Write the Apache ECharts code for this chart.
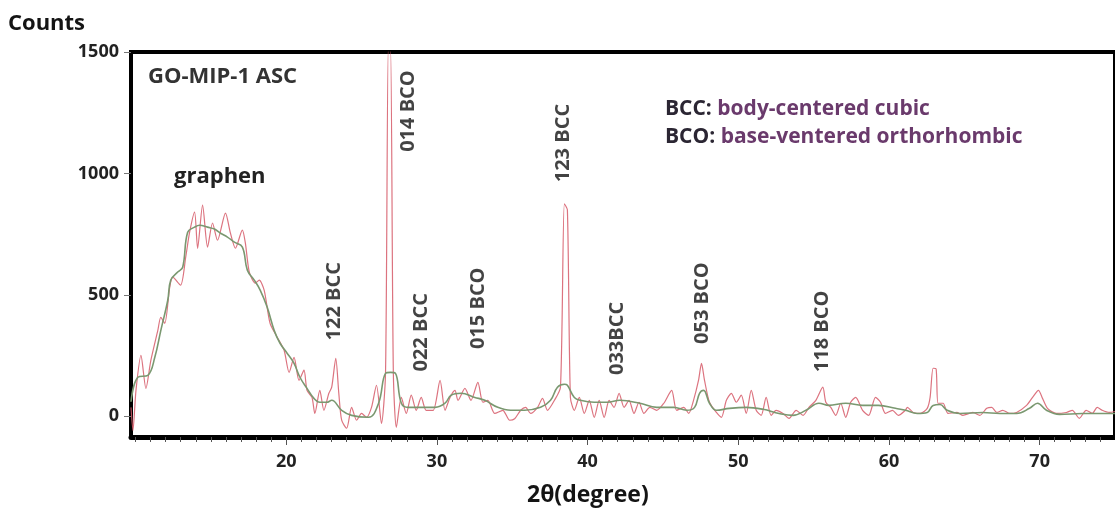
<!DOCTYPE html>
<html>
<head>
<meta charset="utf-8">
<script src="https://cdn.jsdelivr.net/npm/echarts@6/dist/echarts.min.js"></script>
<style>
html,body{margin:0;padding:0;background:#fff;}
#chart{width:1115px;height:517px;}
</style>
</head>
<body>
<div id="chart"></div>
<script>
// ---- Data ----
const rawX = [9.70,9.83,10.03,10.36,10.69,11.02,11.48,11.68,11.94,12.27,12.47,12.99,13.33,13.59,13.92,14.12,14.45,14.78,15.11,15.44,15.97,16.30,16.63,17.09,17.29,17.55,17.95,18.21,18.54,18.93,19.40,19.86,20.19,20.52,20.85,21.18,21.38,21.71,21.90,22.23,22.50,22.83,23.02,23.29,23.49,23.68,24.01,24.34,24.67,25.00,25.33,25.66,25.99,26.32,26.59,26.78,26.92,27.11,27.31,27.64,27.97,28.30,28.63,28.96,29.29,29.75,30.21,30.54,30.87,31.20,31.40,31.86,32.26,32.72,33.05,33.38,33.84,34.37,34.83,35.16,35.56,35.89,36.22,36.68,37.01,37.34,37.80,38.20,38.46,38.66,38.86,39.12,39.45,39.78,40.11,40.44,40.77,41.10,41.43,41.76,42.09,42.42,42.75,43.08,43.41,43.74,44.13,44.59,45.06,45.58,45.91,46.38,46.71,47.03,47.36,47.56,47.76,48.09,48.55,48.88,49.21,49.54,49.87,50.20,50.53,50.86,51.19,51.52,51.85,52.18,52.51,52.97,53.37,53.84,54.30,54.69,55.15,55.61,55.81,56.14,56.47,56.80,57.13,57.46,57.79,58.25,58.65,59.11,59.44,59.77,60.23,60.62,61.09,61.22,61.61,62.08,62.54,62.73,62.93,63.13,63.26,63.59,63.92,64.52,64.91,65.57,66.03,66.49,66.82,67.15,67.55,68.01,68.47,69.13,69.53,69.92,70.19,70.52,71.11,71.77,72.17,72.63,73.09,73.49,73.82,74.15,74.61,75.00];
const rawY = [37,-58,107,251,115,231,354,408,383,532,573,540,655,758,841,692,870,697,796,725,837,754,692,767,713,594,548,561,519,383,326,272,181,243,148,190,107,78,12,107,25,95,120,239,95,-16,-49,37,-16,12,-4,37,128,-29,177,1520,1520,177,-45,78,12,87,25,78,25,25,148,25,78,107,66,115,66,140,58,66,12,25,-16,-10,25,37,12,37,74,25,66,120,875,850,78,25,78,12,66,-4,66,-4,66,37,95,37,66,12,58,12,37,25,54,107,25,37,12,66,148,218,148,58,16,-4,66,95,58,87,12,107,25,4,78,4,25,12,-8,25,4,37,66,120,58,37,4,54,-4,58,78,25,4,78,58,12,25,4,25,37,16,12,33,78,198,195,54,54,12,16,4,16,4,33,37,16,25,12,16,45,78,107,74,33,12,16,25,-8,25,12,37,25,16,20];

const smoothX = [9.70,10.16,10.82,11.28,11.68,12.14,12.34,12.80,13.13,13.46,13.92,14.25,14.78,15.24,15.64,16.10,16.56,17.09,17.42,17.88,18.28,18.74,19.20,19.59,20.06,20.52,20.91,21.38,21.84,22.23,22.69,23.02,23.68,24.34,25.47,26.13,26.59,26.92,27.25,27.64,28.10,28.76,29.88,30.54,30.94,31.60,32.52,33.18,34.04,34.90,35.82,36.88,37.54,38.00,38.46,38.66,39.12,39.52,40.44,41.30,42.15,43.47,44.59,45.72,46.57,47.10,47.43,47.70,48.09,48.55,49.41,50.53,51.65,52.71,53.63,54.49,55.35,56.01,57.13,58.25,59.30,60.43,61.09,61.88,62.54,62.93,63.39,63.86,64.71,66.23,67.35,68.47,69.33,69.86,70.45,71.31,72.83,75.00];
const smoothY = [60,161,169,243,354,478,561,594,614,758,779,787,779,771,754,738,717,697,602,561,519,449,354,301,260,218,161,115,74,58,58,66,25,4,-4,54,177,181,177,54,37,37,37,54,87,95,78,66,37,25,25,37,66,120,132,128,78,66,58,58,66,54,37,37,25,37,95,107,54,25,33,37,29,12,4,25,54,45,54,45,45,33,25,12,16,45,49,25,12,16,12,12,33,54,25,8,12,12];

const peakNames = ['122 BCC','014 BCO','022 BCC','015 BCO','123 BCC','033BCC','053 BCO','118 BCO'];
const peakX = [23.17, 28.12, 28.97, 32.74, 38.41, 41.98, 47.59, 55.57];
const peakY = [474, 1257, 346, 445, 1125, 321, 466, 350];

const xTickLabels = [20, 30, 40, 50, 60, 70];
const yTickLabels = [0, 500, 1000, 1500];

// ---- Build ----
const rawData = rawX.map((x, i) => [x, rawY[i]]);
const smoothData = smoothX.map((x, i) => [x, smoothY[i]]);
const peakData = peakX.map((x, i) => ({ value: [x, peakY[i]], name: peakNames[i] }));
const minorTicks = [];
for (let v = 10; v <= 74; v++) minorTicks.push(v);

const FONT = '"Open Sans", "Liberation Sans", sans-serif';
const chart = echarts.init(document.getElementById('chart'), null, { renderer: 'canvas' });

const X_MIN = 9.7, X_MAX = 75;

chart.setOption({
  animation: false,
  backgroundColor: '#ffffff',
  grid: {
    left: 131, right: -5, top: 52, bottom: 80,
    show: true, borderColor: '#000', borderWidth: 4, backgroundColor: 'transparent'
  },
  xAxis: [
    {
      type: 'value', min: X_MIN, max: X_MAX, position: 'bottom',
      axisLine: { show: true, onZero: false, lineStyle: { color: '#000', width: 5 } },
      axisTick: { show: true, customValues: minorTicks, length: 5, lineStyle: { color: '#555', width: 1 } },
      axisLabel: { show: false },
      splitLine: { show: false }
    },
    {
      type: 'value', min: X_MIN, max: X_MAX, position: 'bottom',
      axisLine: { show: false, onZero: false },
      axisTick: { show: true, customValues: xTickLabels, length: 8, lineStyle: { color: '#555', width: 1 } },
      axisLabel: {
        show: true, customValues: xTickLabels, margin: 16,
        formatter: v => String(v),
        fontFamily: FONT, fontWeight: 'bold', fontSize: 18, color: '#222'
      },
      splitLine: { show: false }
    }
  ],
  yAxis: {
    type: 'value', min: -85, max: 1500,
    axisLine: { show: false },
    axisTick: { show: true, customValues: yTickLabels, length: 7, lineStyle: { color: '#777', width: 1 } },
    axisLabel: {
      customValues: yTickLabels, margin: 12,
      formatter: v => String(v),
      fontFamily: FONT, fontWeight: 'bold', fontSize: 18, color: '#222'
    },
    splitLine: { show: false }
  },
  series: [
    {
      type: 'line', name: 'raw', xAxisIndex: 0, data: rawData,
      showSymbol: false, smooth: 0.25, clip: true,
      lineStyle: { color: 'rgba(214,90,104,0.85)', width: 1.2 },
      z: 2
    },
    {
      type: 'line', name: 'smoothed', xAxisIndex: 0, data: smoothData,
      showSymbol: false, smooth: 0.4, clip: true,
      lineStyle: { color: '#7a9870', width: 1.6 },
      z: 3
    },
    {
      type: 'scatter', xAxisIndex: 0, data: peakData,
      symbolSize: 1, itemStyle: { color: 'rgba(0,0,0,0)' },
      label: {
        show: true, position: 'inside', rotate: 90,
        formatter: p => p.name,
        fontFamily: FONT, fontWeight: 'bold', fontSize: 20, color: '#141414'
      },
      z: 4
    }
  ],
  graphic: [
    { type: 'text', left: 8, top: 13, style: { text: 'Counts', font: 'bold 22px ' + FONT, fill: '#141414' } },
    { type: 'text', left: 148, top: 66, style: { text: 'GO-MIP-1 ASC', font: 'bold 22px ' + FONT, fill: '#333' } },
    { type: 'text', left: 174, top: 166, style: { text: 'graphen', font: 'bold 22px ' + FONT, fill: '#222' } },
    {
      type: 'text', left: 665, top: 95,
      style: {
        text: '{k|BCC:} {v|body-centered cubic}\n{k|BCO:} {v|base-ventered orthorhombic}',
        font: 'bold 21px ' + FONT, lineHeight: 28,
        rich: {
          k: { font: 'bold 21px ' + FONT, fill: '#2b2633', lineHeight: 28 },
          v: { font: 'bold 21px ' + FONT, fill: '#6a3a6c', lineHeight: 28 }
        }
      }
    },
    { type: 'text', left: 527, top: 484, style: { text: '2θ(degree)', font: 'bold 23px ' + FONT, fill: '#141414' } }
  ]
});
</script>
</body>
</html>
